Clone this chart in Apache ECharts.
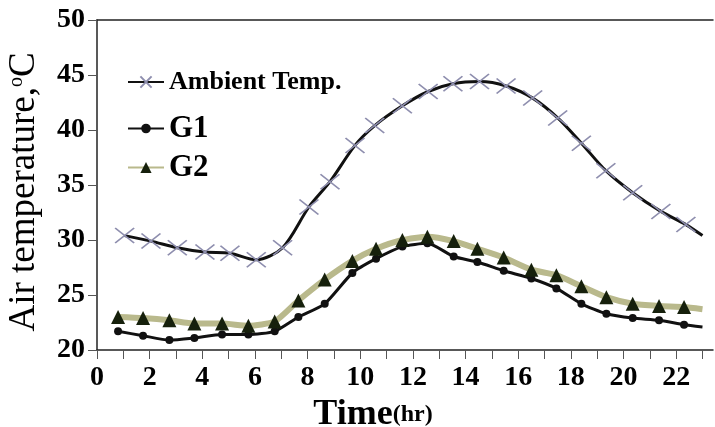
<!DOCTYPE html>
<html>
<head>
<meta charset="utf-8">
<script src="https://cdn.jsdelivr.net/npm/echarts@6/dist/echarts.min.js"></script>
<style>
  html, body { margin: 0; padding: 0; background: #fff; }
  #chart { width: 715px; height: 427px; }
</style>
</head>
<body>
<div id="chart"></div>
<script>
// values (hours, °C)
var ambientHours = [1.05, 2.05, 3.05, 4.1, 5.05, 6.05, 7.05, 8.05, 8.85, 9.8, 10.55, 11.6, 12.58, 13.52, 14.53, 15.54, 16.55, 17.5, 18.4, 19.33, 20.35, 21.42, 22.37, 23.0];
var ambientTemp = [30.4, 29.9, 29.3, 28.9, 28.8, 28.2, 29.3, 33.0, 35.3, 38.6, 40.4, 42.2, 43.5, 44.2, 44.4, 44.0, 42.9, 41.1, 38.8, 36.3, 34.3, 32.6, 31.4, 30.4];
var gHours = [0.8, 1.75, 2.75, 3.7, 4.75, 5.75, 6.75, 7.65, 8.65, 9.7, 10.6, 11.6, 12.55, 13.55, 14.45, 15.45, 16.5, 17.45, 18.4, 19.35, 20.35, 21.35, 22.3, 23.0];
var g1Temp = [21.7, 21.3, 20.9, 21.1, 21.4, 21.4, 21.7, 23.0, 24.2, 27.0, 28.3, 29.4, 29.7, 28.5, 28.0, 27.2, 26.5, 25.6, 24.2, 23.3, 22.9, 22.7, 22.3, 22.1];
var g2Temp = [23.0, 22.9, 22.7, 22.4, 22.4, 22.2, 22.6, 24.5, 26.4, 28.1, 29.2, 30.0, 30.3, 29.9, 29.2, 28.4, 27.3, 26.8, 25.8, 24.8, 24.2, 24.0, 23.9, 23.7];
var xTickValues = [0, 1, 2, 3, 4, 5, 6, 7, 8, 9, 10, 11, 12, 13, 14, 15, 16, 17, 18, 19, 20, 21, 22, 23];
var xLabelValues = [0, 2, 4, 6, 8, 10, 12, 14, 16, 18, 20, 22];

function pairs(xs, ys) {
  return xs.map(function (x, i) { return [x, ys[i]]; });
}

var serif = "Liberation Serif";
var crossPath = "path://M0,0L10,10M10,0L0,10";
// last point of each curve is only a line end, no marker
function marked(data) {
  return data.map(function (d, i) {
    return i === data.length - 1 ? { value: d, symbol: "none" } : d;
  });
}

var chart = echarts.init(document.getElementById("chart"));
chart.setOption({
  animation: false,
  grid: { left: 97, right: 2, top: 20, bottom: 77, containLabel: false, outerBoundsMode: "none" },
  legend: [
    {
      data: ["Ambient Temp."], left: 122, top: 64, itemWidth: 36, itemHeight: 14,
      textStyle: { fontFamily: serif, fontWeight: "bold", fontSize: 26, color: "#000" }
    },
    {
      data: ["G1"], left: 122, top: 108, itemWidth: 36, itemHeight: 12,
      textStyle: { fontFamily: serif, fontWeight: "bold", fontSize: 31, color: "#000" }
    },
    {
      data: ["G2"], left: 122, top: 147, itemWidth: 36, itemHeight: 14,
      textStyle: { fontFamily: serif, fontWeight: "bold", fontSize: 31, color: "#000" }
    }
  ],
  xAxis: [
    {
      type: "value", min: 0, max: 23.4,
      name: "{a|Time}{b|(hr)}", nameLocation: "middle", nameGap: 46,
      nameTextStyle: {
        padding: [0, 64, 0, 0],
        rich: {
          a: { fontFamily: serif, fontWeight: "bold", fontSize: 36, color: "#000" },
          b: { fontFamily: serif, fontWeight: "bold", fontSize: 24, color: "#000" }
        }
      },
      axisLine: { lineStyle: { color: "#222", width: 1.5 } },
      axisTick: { length: 9, customValues: xTickValues, lineStyle: { color: "#555" } },
      axisLabel: {
        customValues: xLabelValues, margin: 14,
        fontFamily: serif, fontWeight: "bold", fontSize: 28, color: "#000"
      },
      splitLine: { show: false }
    },
    {
      type: "value", min: 0, max: 23.4, position: "top",
      axisLine: { show: true, lineStyle: { color: "#222", width: 1.5 } },
      axisTick: { show: false }, axisLabel: { show: false }, splitLine: { show: false }
    }
  ],
  yAxis: {
    type: "value", min: 20, max: 50, interval: 5,
    name: "Air temperature,{s|o}C", nameLocation: "middle", nameGap: 54,
    nameTextStyle: {
      fontFamily: serif, fontSize: 37, color: "#000", padding: [0, 14, 0, 0],
      rich: { s: { fontFamily: serif, fontSize: 20, color: "#000", padding: [0, 0, 16, 0] } }
    },
    axisLine: { show: true, lineStyle: { color: "#222", width: 1.5 } },
    axisTick: { show: true, length: 9, lineStyle: { color: "#555" } },
    axisLabel: { margin: 12, fontFamily: serif, fontWeight: "bold", fontSize: 28, color: "#000" },
    splitLine: { show: false }
  },
  series: [
    {
      name: "Ambient Temp.", type: "line", smooth: 0.3,
      data: marked(pairs(ambientHours, ambientTemp)),
      symbol: crossPath, symbolSize: [19, 15],
      itemStyle: { color: "#9090b0", borderColor: "#8e8eae", borderWidth: 1.6 },
      lineStyle: { color: "#111", width: 3 }
    },
    {
      name: "G1", type: "line", smooth: 0.2,
      data: marked(pairs(gHours, g1Temp)),
      symbol: "circle", symbolSize: 8,
      itemStyle: { color: "#111" },
      lineStyle: { color: "#111", width: 3 }
    },
    {
      name: "G2", type: "line", smooth: 0.2,
      data: marked(pairs(gHours, g2Temp)),
      symbol: "triangle", symbolSize: 14,
      itemStyle: { color: "#16200c" },
      lineStyle: { color: "#b9b98c", width: 6 }
    }
  ]
});
</script>
</body>
</html>
